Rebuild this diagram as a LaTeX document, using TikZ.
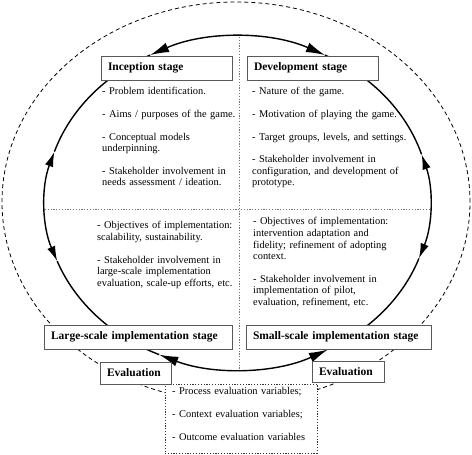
\documentclass[tikz,border=0pt]{standalone}
\usepackage{fontspec}
\setmainfont{Liberation Serif}
\usetikzlibrary{arrows.meta,calc}
\begin{document}
\begin{tikzpicture}[x=1pt,y=1pt,
  ring/.style={line width=1.4pt,black},
  stagebox/.style={draw=black!65,line width=0.8pt,fill=white,inner xsep=7pt,inner ysep=0pt,
    minimum height=24pt,text width=#1,align=left,font=\fontsize{11.5}{13}\selectfont\bfseries},
  blk/.style={inner sep=0pt,text width=185pt,align=left,anchor=base west,
    font=\fontsize{10.4}{11.6}\selectfont},
  dotln/.style={black!55,line width=0.7pt,dash pattern=on 1.2pt off 1.6pt},
  tipTB/.style={{Latex[length=19pt,width=10pt]}-{Latex[length=19pt,width=10pt]}},
  tipLR/.style={{Latex[length=15pt,width=8.5pt]}-{Latex[length=15pt,width=8.5pt]}},
  earc/.style={x radius=192.5pt,y radius=166pt},
]
\useasboundingbox (0,0) rectangle (472,455);
\coordinate (c) at (237.5,252);
\coordinate (co) at (236,253);
% outer dashed ellipse
\draw[black,line width=0.8pt,dash pattern=on 4pt off 3pt] (co) ellipse[x radius=234pt,y radius=200pt];
% dotted quadrant lines
\coordinate (vt) at (239,418);
\coordinate (vb) at (239,86);
\coordinate (hl) at (45,246);
\coordinate (hr) at (430,246);
\draw[dotln] (vt) -- (vb);
\draw[dotln] (hl) -- (hr);
% inner cycle
\draw[ring,tipTB] ($(c)+(63:192.5pt and 166pt)$) arc[start angle=63,end angle=117,earc];
\draw[ring] ($(c)+(117:192.5pt and 166pt)$) arc[start angle=117,end angle=162,earc];
\draw[ring,tipLR] ($(c)+(162:192.5pt and 166pt)$) arc[start angle=162,end angle=200.5,earc];
\draw[ring] ($(c)+(200.5:192.5pt and 166pt)$) arc[start angle=200.5,end angle=246,earc];
\draw[ring,tipTB] ($(c)+(246:192.5pt and 166pt)$) arc[start angle=246,end angle=298,earc];
\draw[ring] ($(c)+(298:192.5pt and 166pt)$) arc[start angle=298,end angle=340.5,earc];
\draw[ring,tipLR] ($(c)+(340.5:192.5pt and 166pt)$) arc[start angle=340.5,end angle=377,earc];
\draw[ring] ($(c)+(17:192.5pt and 166pt)$) arc[start angle=17,end angle=63,earc];
% stage boxes
\node[stagebox=117pt,minimum width=131pt] (inc) at (166.5,387) {Inception stage};
\node[stagebox=117pt,minimum width=131pt] (dev) at (312.5,387) {Development stage};
\node[stagebox=174pt,minimum width=188pt] (large) at (138,118) {Large-scale implementation stage};
\node[stagebox=171pt,minimum width=185pt] (small) at (338.5,118) {Small-scale implementation stage};
% evaluation box
\node[draw=black!80,line width=0.7pt,dash pattern=on 1.2pt off 1.6pt,fill=white,
  minimum width=152pt,minimum height=69pt,inner sep=0pt] (evbox) at (241,36.5) {};
\node[stagebox=57pt,minimum width=71pt,minimum height=22pt] (evl) at (135.5,82) {Evaluation};
\node[stagebox=58pt,minimum width=72pt,minimum height=21pt] (evr) at (348,83.5) {Evaluation};
% texts
\node[blk] (inctext) at (102,360) {- Problem identification.\\[11pt]
- Aims / purposes of the game.\\[11pt]
- Conceptual models\\underpinning.\\[11pt]
- Stakeholder involvement in\\needs assessment / ideation.};
\node[blk] (devtext) at (252,360) {- Nature of the game.\\[11pt]
- Motivation of playing the game.\\[11pt]
- Target groups, levels, and settings.\\[11pt]
- Stakeholder involvement in\\configuration, and development of\\prototype.};
\node[blk] (largetext) at (97,226) {- Objectives of implementation:\\scalability, sustainability.\\[11pt]
- Stakeholder involvement in\\large-scale implementation\\evaluation, scale-up efforts, etc.};
\node[blk] (smalltext) at (253,230) {- Objectives of implementation:\\intervention adaptation and\\fidelity; refinement of adopting\\context.\\[11pt]
- Stakeholder involvement in\\implementation of pilot,\\evaluation, refinement, etc.};
\node[blk] (evtext) at (172,60) {- Process evaluation variables;\\[11.4pt]
- Context evaluation variables;\\[11.4pt]
- Outcome evaluation variables};
\end{tikzpicture}
\end{document}
